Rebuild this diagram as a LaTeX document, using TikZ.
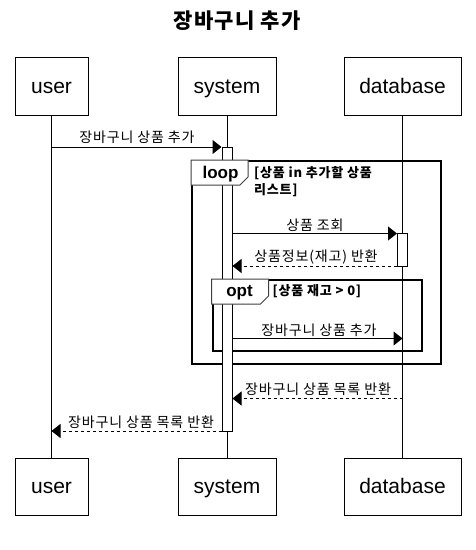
\documentclass[tikz,border=0pt]{standalone}
\usepackage{fontspec}
\setmainfont{Liberation Sans}
\newfontfamily\kr[LetterSpace=6]{Noto Sans CJK KR}
\usetikzlibrary{arrows.meta}
\begin{document}
\begin{tikzpicture}[x=1pt,y=-1pt,
  actor/.style={draw,line width=1pt,fill=white,font=\fontsize{21}{24}\selectfont,inner sep=0pt,text height=14pt,text depth=0pt},
  actbar/.style={draw,line width=1pt,fill=white,inner sep=0pt,minimum width=10pt},
  life/.style={line width=1pt},
  msg/.style={line width=1pt,-{Triangle[length=9pt,width=14pt]}},
  ret/.style={msg,dash pattern=on 3pt off 3pt},
  lbl/.style={font=\kr\fontsize{14}{16}\selectfont,inner sep=0pt},
  frame/.style={draw,line width=2pt,inner sep=0pt},
  tab/.style={draw=black!75,line width=1pt,fill=white},
  tabtxt/.style={font=\bfseries\fontsize{17}{19}\selectfont,inner sep=0pt},
  cond/.style={font=\kr\bfseries\fontsize{13}{17}\selectfont,inner sep=0pt,align=left}]
\useasboundingbox[fill=white] (0,0) rectangle (475,550);
% title
\node[font=\kr\bfseries\fontsize{21}{24}\selectfont] (title) at (237,21) {장바구니 추가};
% actors
\node[actor,minimum width=73pt,minimum height=58pt] (userT) at (51.5,86) {user};
\node[actor,minimum width=98pt,minimum height=58pt] (sysT) at (227,86) {system};
\node[actor,minimum width=117pt,minimum height=58pt] (dbT) at (402.5,86) {database};
\node[actor,minimum width=73pt,minimum height=57pt] (userB) at (51.5,486.5) {user};
\node[actor,minimum width=98pt,minimum height=57pt] (sysB) at (227,486.5) {system};
\node[actor,minimum width=117pt,minimum height=57pt] (dbB) at (402.5,486.5) {database};
% lifelines
\draw[life] (userT) -- (userB);
\draw[life] (sysT) -- (sysB);
\draw[life] (dbT) -- (dbB);
% frames
\node[frame,minimum width=249pt,minimum height=203pt] (loopF) at (316.5,262.5) {};
\node[frame,minimum width=209pt,minimum height=71pt] (optF) at (317,315.5) {};
% activations
\node[actbar,minimum height=284pt] (act1) at (227,289) {};
\node[actbar,minimum height=33pt] (act2) at (402.5,249.5) {};
% loop tab
\draw[tab] (loopF.north west) -- ++(57,0) -- ++(0,17) -- ++(-8,8) -- ++(-49,0) -- cycle;
\node[tabtxt] (loopT) at (220.5,174) {loop};
\node[cond,anchor=north west] (loopC) at (254,166) {[상품 in 추가할 상품\\리스트]};
% opt tab
\draw[tab] (optF.north west) -- ++(57,0) -- ++(0,17) -- ++(-8,8) -- ++(-49,0) -- cycle;
\node[tabtxt] (optT) at (239.5,293) {opt};
\node[cond,anchor=west] (optC) at (272.5,291.5) {[상품 재고 > 0]};
% messages
\coordinate (m1) at (52,147);
\draw[msg] (m1) -- (m1 -| act1.west);
\node[lbl] (l1) at (137,137) {장바구니 상품 추가};

\coordinate (m2) at (232,233.5);
\draw[msg] (m2 -| act1.east) -- (m2 -| act2.west);
\node[lbl] (l2) at (315,225) {상품 조회};

\coordinate (m3) at (232,266);
\draw[ret] (m3 -| act2.west) -- (m3 -| act1.east);
\node[lbl] (l3) at (316,257) {상품정보(재고) 반환};

\coordinate (m4) at (232,338.5);
\draw[msg] (m4 -| act1.east) -- (m4 -| dbT.south);
\node[lbl] (l4) at (319,330) {장바구니 상품 추가};

\coordinate (m5) at (232,398.5);
\draw[ret] (m5 -| dbT.south) -- (m5 -| act1.east);
\node[lbl] (l5) at (318,389) {장바구니 상품 목록 반환};

\coordinate (m6) at (52,431);
\draw[ret] (m6 -| act1.west) -- (m6 -| userT.south);
\node[lbl] (l6) at (141,422) {장바구니 상품 목록 반환};
\end{tikzpicture}
\end{document}
